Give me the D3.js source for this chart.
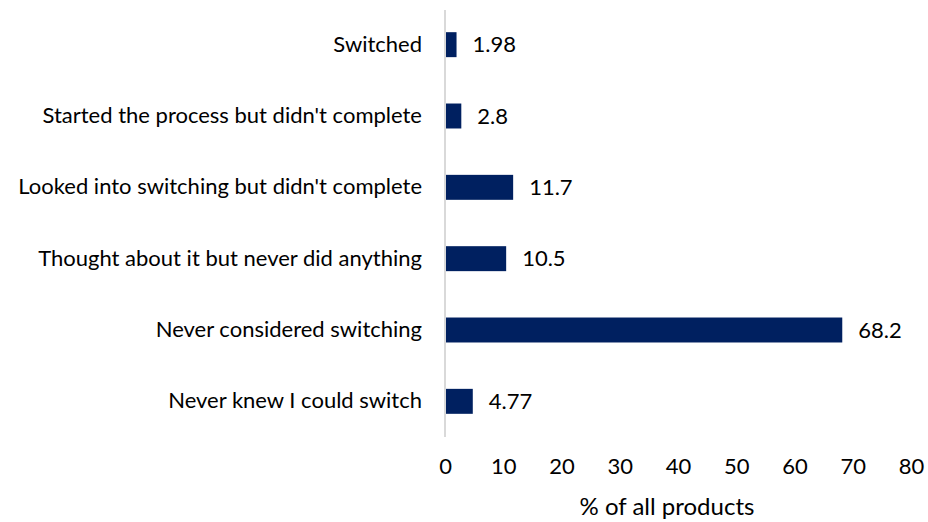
<!DOCTYPE html>
<html lang="en">
<meta charset="utf-8">
<style>
body { margin: 0; background: #fff; }
text { font-family: Lato, "Open Sans", sans-serif; fill: #000; }
</style>
<body>
<script src="https://d3js.org/d3.v7.min.js"></script>
<div id="chart"></div>
<script>
// data
var categories = ["Switched", "Started the process but didn't complete", "Looked into switching but didn't complete",
  "Thought about it but never did anything", "Never considered switching", "Never knew I could switch"];
var values = [1.98, 2.8, 11.7, 10.5, 68.2, 4.77];
var valueLabels = ["1.98", "2.8", "11.7", "10.5", "68.2", "4.77"];
var xTicks = [0, 10, 20, 30, 40, 50, 60, 70, 80];

var width = 928, height = 522;
var margin = {top: 9, right: 17, bottom: 85, left: 445};
var fontSize = "22px";

var svg = d3.select("#chart").append("svg")
    .attr("width", width)
    .attr("height", height);

var x = d3.scaleLinear()
    .domain([0, 80])
    .range([margin.left, 911]);

var y = d3.scaleBand()
    .domain(categories)
    .range([margin.top, height - margin.bottom])
    .paddingInner(0.65)
    .paddingOuter(0.325);

// bars
svg.selectAll("rect.bar")
    .data(values)
  .enter().append("rect")
    .attr("class", "bar")
    .attr("x", x(0))
    .attr("y", function(d, i) { return y(categories[i]); })
    .attr("width", function(d) { return x(d) - x(0); })
    .attr("height", y.bandwidth())
    .style("fill", "#002060");

// value labels
svg.selectAll("text.val")
    .data(values)
  .enter().append("text")
    .attr("class", "val")
    .attr("x", function(d) { return x(d) + 16; })
    .attr("y", function(d, i) { return y(categories[i]) + y.bandwidth() / 2; })
    .attr("dy", "0.35em")
    .style("font-size", fontSize)
    .text(function(d, i) { return valueLabels[i]; });

// y axis (category labels + line)
var yAxis = svg.append("g")
    .attr("transform", "translate(" + x(0) + ",0)")
    .call(d3.axisLeft(y).tickSize(0).tickPadding(23));
yAxis.select(".domain").attr("stroke", "#d9d9d9").attr("stroke-width", 2)
    .attr("d", "M0," + (margin.top + 1) + "V" + (height - margin.bottom));
yAxis.selectAll("text").style("font-size", fontSize).style("font-family", "Lato, 'Open Sans', sans-serif").attr("fill", "#000");

// x axis (labels only)
var xAxis = svg.append("g")
    .attr("transform", "translate(0," + (height - margin.bottom) + ")")
    .call(d3.axisBottom(x).tickValues(xTicks).tickSize(0).tickPadding(21));
xAxis.select(".domain").remove();
xAxis.selectAll("text").style("font-size", fontSize).style("font-family", "Lato, 'Open Sans', sans-serif").attr("fill", "#000");

// axis title
svg.append("text")
    .attr("x", 667)
    .attr("y", 515)
    .attr("text-anchor", "middle")
    .style("font-size", "24px")
    .text("% of all products");
</script>
</body>
</html>
